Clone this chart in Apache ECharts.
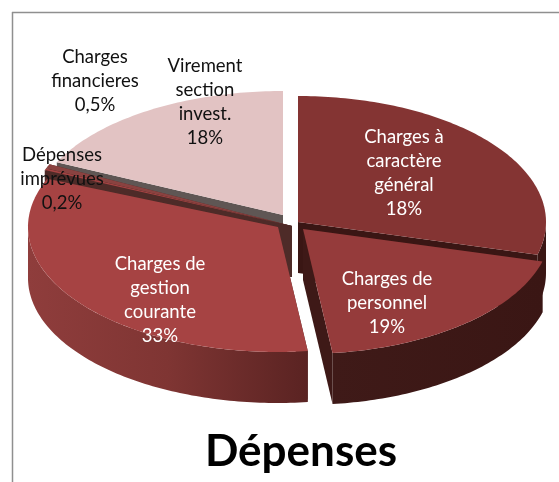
<!DOCTYPE html>
<html>
<head>
<meta charset="utf-8">
<style>html,body{margin:0;padding:0;background:#fff}#c{width:559px;height:482px}</style>
<script src="https://cdn.jsdelivr.net/npm/echarts@6/dist/echarts.min.js"></script>
</head>
<body>
<div id="c"></div>
<script>
const categories = ["Charges à caractère général","Charges de personnel","Charges de gestion courante","Dépenses imprévues","Charges financieres","Virement section invest."];
const values = [29.2,18.9,33.2,0.2,0.5,18];
const labelTexts = ["Charges à\ncaractère\ngénéral\n18%","Charges de\npersonnel\n19%","Charges de\ngestion\ncourante\n33%","Dépenses\nimprévues\n0,2%","Charges\nfinancieres\n0,5%","Virement\nsection\ninvest.\n18%"];
const titleText = "Dépenses";

// layout and style (pseudo-3D projection of each exploded slice)
const geom = [
  {cx:298,cy:222,rx:248,ry:126},
  {cx:303,cy:229,rx:248,ry:125},
  {cx:278,cy:227,rx:250,ry:125},
  {cx:292,cy:226,rx:268,ry:145},
  {cx:292,cy:226,rx:268,ry:145},
  {cx:283,cy:215,rx:250,ry:124}
];
const depth = 51;
const topColors = ["#843433","#953b3b","#a64343","#a64343","#8a4240","#e2c3c3"];
const cutColors = ["#3a1614","#3e1917","#4e2b28","#4e2b28","#4e2b28","#5f5654"];
const rimColors = [
  [[0,"#3a1614"],[1,"#3a1614"]],
  [[0,"#3f1a18"],[1,"#3a1614"]],
  [[0,"#8f3d3c"],[0.5,"#7f3533"],[1,"#5a2322"]],
  [[0,"#4e2b28"],[1,"#4e2b28"]],
  [[0,"#4e2b28"],[1,"#4e2b28"]],
  [[0,"#5f5654"],[1,"#5f5654"]]
];
const labelPos = [[404,173],[387,303],[160,300],[62,179],[95,81],[205,102]];
const labelColors = ["#fff","#fff","#fff","#111","#111","#111"];
const drawOrder = [5,4,3,0,2,1];

const total = values.reduce((a,b)=>a+b,0);
const startAngles = [];
values.reduce((acc,v,i)=>{startAngles[i]=acc;return acc+v/total*360;},0);

function pt(g,deg,dy){
  const r=deg*Math.PI/180;
  return [g.cx+g.rx*Math.sin(r), g.cy-g.ry*Math.cos(r)+(dy||0)];
}
function arc(g,a,b,dy){
  const pts=[];const n=Math.max(2,Math.ceil(Math.abs(b-a)));
  for(let k=0;k<=n;k++)pts.push(pt(g,a+(b-a)*k/n,dy));
  return pts;
}
function renderSlice(params,api){
  const i=api.value(0), g=geom[i];
  const a=startAngles[i], b=a+api.value(1)/total*360;
  const apex=[g.cx,g.cy], apexB=[g.cx,g.cy+depth];
  const kids=[];
  const poly=(points,fill)=>kids.push({type:'polygon',shape:{points},style:{fill}});
  poly([apex,pt(g,a),pt(g,a,depth),apexB],cutColors[i]);
  poly([apex,pt(g,b),pt(g,b,depth),apexB],cutColors[i]);
  const fa=Math.max(a,90), fb=Math.min(b,270);
  if(fb>fa){
    const top=arc(g,fa,fb,0), bot=arc(g,fa,fb,depth).reverse();
    const xs=top.concat(bot).map(p=>p[0]);
    const x0=Math.min(...xs), x1=Math.max(...xs);
    const stops=rimColors[i].map(s=>({offset:s[0],color:s[1]}));
    poly(top.concat(bot),new echarts.graphic.LinearGradient(x0,0,x1,0,stops,true));
  }
  poly([apex].concat(arc(g,a,b,0)),topColors[i]);
  return {type:'group',children:kids};
}
function renderLabel(params,api){
  const i=api.value(0);
  return {type:'text',style:{text:labelTexts[i],x:labelPos[i][0],y:labelPos[i][1],
    fill:labelColors[i],font:'18.5px Lato',lineHeight:24.3,align:'center',verticalAlign:'middle'}};
}
const chart=echarts.init(document.getElementById('c'),null,{renderer:'canvas'});
chart.setOption({
  animation:false,
  backgroundColor:'#fff',
  title:{text:titleText,left:302,top:425,textAlign:'center',
    textStyle:{fontFamily:'Lato',fontWeight:'bold',fontSize:44,color:'#000'}},
  graphic:[
    {type:'line',shape:{x1:12.5,y1:12,x2:12.5,y2:482},style:{stroke:'#8f8f8f',lineWidth:1.5},silent:true},
    {type:'line',shape:{x1:12,y1:12.5,x2:559,y2:12.5},style:{stroke:'#8f8f8f',lineWidth:1.5},silent:true}
  ],
  series:[
    {type:'custom',coordinateSystem:'none',renderItem:renderSlice,silent:true,z:2,
     data:drawOrder.map(i=>({name:categories[i],value:[i,values[i]]}))},
    {type:'custom',coordinateSystem:'none',renderItem:renderLabel,silent:true,z:3,
     data:categories.map((c,i)=>({name:c,value:[i,values[i]]}))}
  ]
});
chart.setOption({title:{left:296}});
</script>
</body>
</html>
